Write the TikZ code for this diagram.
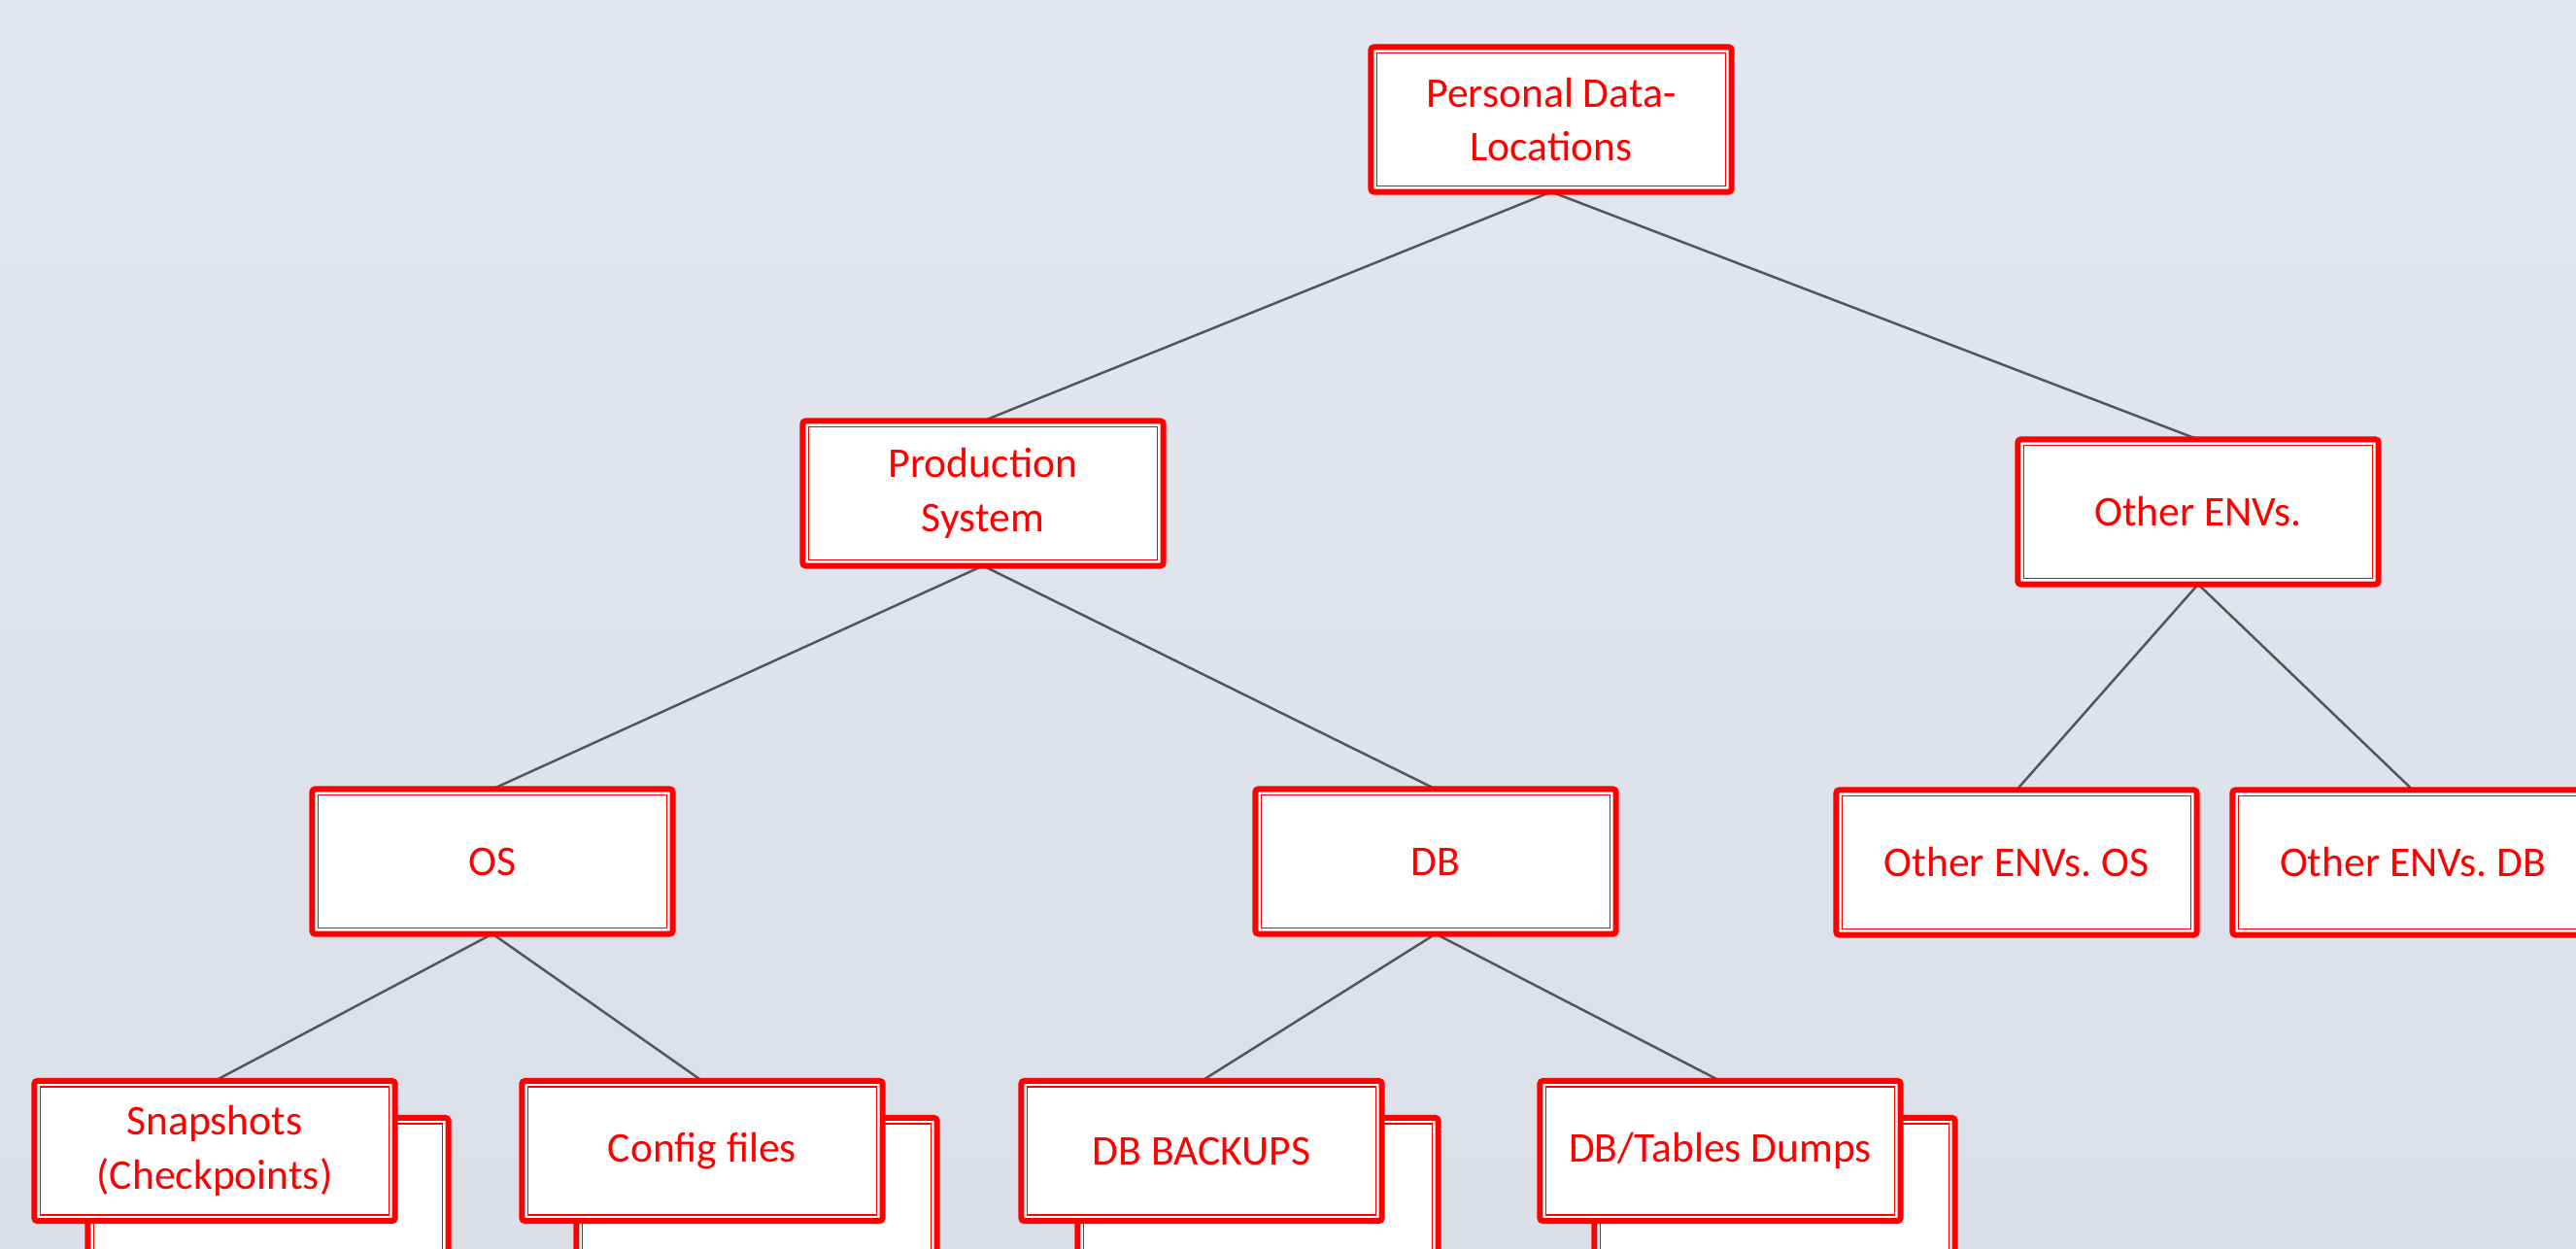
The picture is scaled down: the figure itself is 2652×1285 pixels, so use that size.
\documentclass[tikz,border=0pt]{standalone}
\usepackage{fontspec}
\setmainfont{Carlito}
\frenchspacing
\pgfdeclarelayer{bg}
\pgfsetlayers{bg,main}
\definecolor{bgtop}{HTML}{E2E6EF}
\definecolor{bgbot}{HTML}{DBDFE8}
\definecolor{boxred}{HTML}{FF0000}
\definecolor{linkgray}{HTML}{555555}
\tikzset{
  innerline/.style={draw=boxred, line width=0.014cm},
  pbox/.style={draw=boxred, line width=0.06cm, fill=white, rounded corners=0.03cm,
    outer sep=0pt, inner sep=0pt, minimum width=3.71cm, minimum height=1.49cm,
    align=center, text=boxred, font=\fontsize{12.4}{15.9}\selectfont,
    path picture={\draw[innerline, rounded corners=0pt]
      ([shift={(6,6)}]path picture bounding box.north west) rectangle
      ([shift={(-6,-6)}]path picture bounding box.south east);}},
  lowbox/.style={pbox, minimum height=1.44cm},
  link/.style={draw=linkgray, line width=0.7pt},
}
\begin{document}
\begin{tikzpicture}[x=0.01cm, y=-0.01cm]
\useasboundingbox (0,0) rectangle (2652,1285);
\clip (0,0) rectangle (2652,1285);

% back sheets of the bottom row
\node[lowbox] (snapb) at (276,1223) {};
\node[lowbox] (confb) at (779,1223) {};
\node[lowbox] (dbbb) at (1295,1223) {};
\node[lowbox] (dbtb) at (1827,1223) {};

% main boxes
\node[pbox] (pd) at (1597,123) {Personal Data-\\Locations};
\node[pbox] (prod) at (1012,508) {Production\\System};
\node[pbox] (oe) at (2263,527) {Other ENVs.};
\node[pbox] (os) at (507,887) {OS};
\node[pbox] (db) at (1478,887) {DB};
\node[pbox] (oeos) at (2076,888) {Other ENVs. OS};
\node[pbox] (oedb) at (2484,888) {Other ENVs. DB};
\node[lowbox] (snap) at (221,1185) {Snapshots\\(Checkpoints)};
\node[lowbox] (conf) at (723,1185) {Config files};
\node[lowbox] (dbb) at (1237,1185) {DB BACKUPS};
\node[lowbox] (dbt) at (1771,1185) {DB/Tables Dumps};

% background and connectors
\begin{pgfonlayer}{bg}
\shade[top color=bgtop, bottom color=bgbot] (0,0) rectangle (2652,1285);
\draw[link] (pd.south) -- (prod.north);
\draw[link] (pd.south) -- (oe.north);
\draw[link] (prod.south) -- (os.north);
\draw[link] (prod.south) -- (db.north);
\draw[link] (oe.south) -- (oeos.north);
\draw[link] (oe.south) -- (oedb.north);
\draw[link] (os.south) -- (snap.north);
\draw[link] (os.south) -- (conf.north);
\draw[link] (db.south) -- (dbb.north);
\draw[link] (db.south) -- (dbt.north);
\end{pgfonlayer}
\end{tikzpicture}
\end{document}
